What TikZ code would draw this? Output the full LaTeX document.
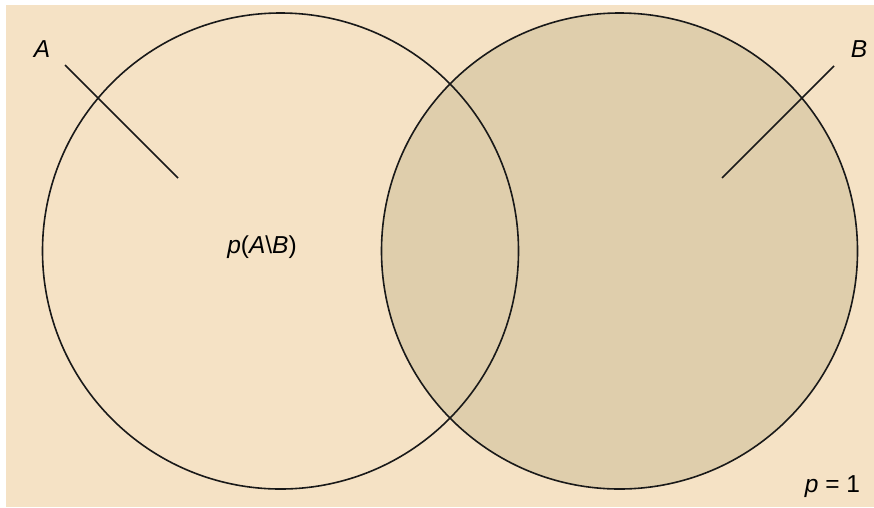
\documentclass[tikz,border=0pt]{standalone}
\usepackage{fontspec}
\setmainfont{Liberation Sans}
\definecolor{bg}{RGB}{245,226,197}
\definecolor{bfill}{RGB}{223,206,172}
\begin{document}
\begin{tikzpicture}[x=1pt,y=-1pt,
  setcircle/.style={circle,draw=black!90,line width=1.6pt,minimum size=476pt,inner sep=0pt},
  lbl/.style={anchor=base,inner sep=0pt,font=\fontsize{24.5}{28}\selectfont},
  pointer/.style={draw=black!90,line width=1.6pt}]
\useasboundingbox (0,0) rectangle (874,507);
\fill[white] (0,0) rectangle (874,507);
\fill[bg] (6,5) rectangle (874,507);
\node[setcircle,fill=bfill] (B) at (619.5,251) {};
\node[setcircle] (A) at (280.5,251) {};
\node[lbl] (la) at (42,57) {\textit{A}};
\node[lbl] (lb) at (859,57) {\textit{B}};
\node[lbl] (diff) at (262,253) {\textit{p}(\textit{A}\textbackslash\textit{B})};
\node[lbl] (p1) at (832.5,492) {\textit{p} = 1};
\coordinate (a1) at (65,65);
\coordinate (a2) at (178,178);
\coordinate (b1) at (834,66);
\coordinate (b2) at (722,178);
\draw[pointer] (a1) -- (a2);
\draw[pointer] (b1) -- (b2);
\end{tikzpicture}
\end{document}
